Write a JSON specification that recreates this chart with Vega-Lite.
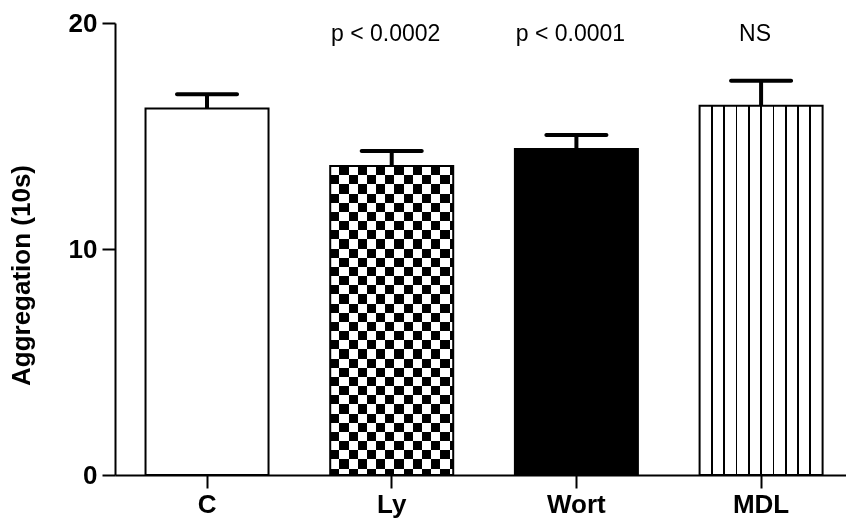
{
  "$schema": "https://vega.github.io/schema/vega-lite/v6.json",
  "autosize": {"type": "none"},
  "padding": {"left": 115, "top": 23, "right": 0, "bottom": 50},
  "width": 731,
  "height": 452,
  "background": "white",
  "config": {"view": {"stroke": null}, "font": "Liberation Sans"},
  "data": {"values": [
    {"group": "C", "mean": 16.22, "upper": 16.85, "note": ""},
    {"group": "Ly", "mean": 13.67, "upper": 14.34, "note": "p < 0.0002"},
    {"group": "Wort", "mean": 14.42, "upper": 15.04, "note": "p < 0.0001"},
    {"group": "MDL", "mean": 16.34, "upper": 17.45, "note": "NS"}
  ]},
  "encoding": {
    "x": {
      "field": "group", "type": "nominal", "sort": null,
      "scale": {"paddingInner": 0.334, "paddingOuter": 0.146, "align": 0.566},
      "axis": {
        "title": null, "labelAngle": 0, "domainWidth": 2, "domainColor": "black",
        "tickColor": "black", "tickWidth": 2, "tickSize": 13,
        "labelFont": "Liberation Sans", "labelFontWeight": "bold", "labelFontSize": 26,
        "labelColor": "black", "labelPadding": 3
      }
    }
  },
  "layer": [
    {
      "mark": {"type": "bar", "strokeWidth": 0},
      "encoding": {
        "y": {
          "field": "mean", "type": "quantitative",
          "scale": {"domain": [0, 20], "nice": false},
          "axis": {
            "values": [0, 10, 20], "grid": false, "title": "Aggregation (10s)",
            "titleFont": "Liberation Sans", "titleFontSize": 26, "titleFontWeight": "bold", "titleColor": "black",
            "titleX": -81, "titleY": 252, "titleAlign": "center", "titleAngle": -90, "titleBaseline": "bottom",
            "domainWidth": 2, "domainColor": "black", "tickColor": "black", "tickWidth": 2, "tickSize": 13,
            "labelFont": "Liberation Sans", "labelFontWeight": "bold", "labelFontSize": 26, "labelColor": "black",
            "labelPadding": 5
          }
        },
        "fill": {
          "field": "group", "type": "nominal", "legend": null,
          "scale": {"domain": ["C", "Ly", "Wort", "MDL"], "range": ["#ffffff", "#ffffff", "#000000", "#ffffff"]}
        }
      }
    },
    {
      "transform": [{"filter": "datum.group === 'Ly'"}],
      "mark": {
        "type": "bar", "strokeWidth": 0,
        "fill": {
          "gradient": "linear", "x1": 0, "y1": 0, "x2": 1, "y2": 0,
          "stops": [
            {"offset": 0, "color": "#000"}, {"offset": 0.0746, "color": "#000"},
            {"offset": 0.0746, "color": "#fff"}, {"offset": 0.1493, "color": "#fff"},
            {"offset": 0.1493, "color": "#000"}, {"offset": 0.2239, "color": "#000"},
            {"offset": 0.2239, "color": "#fff"}, {"offset": 0.2985, "color": "#fff"},
            {"offset": 0.2985, "color": "#000"}, {"offset": 0.3731, "color": "#000"},
            {"offset": 0.3731, "color": "#fff"}, {"offset": 0.4478, "color": "#fff"},
            {"offset": 0.4478, "color": "#000"}, {"offset": 0.5224, "color": "#000"},
            {"offset": 0.5224, "color": "#fff"}, {"offset": 0.5970, "color": "#fff"},
            {"offset": 0.5970, "color": "#000"}, {"offset": 0.6716, "color": "#000"},
            {"offset": 0.6716, "color": "#fff"}, {"offset": 0.7463, "color": "#fff"},
            {"offset": 0.7463, "color": "#000"}, {"offset": 0.8209, "color": "#000"},
            {"offset": 0.8209, "color": "#fff"}, {"offset": 0.8955, "color": "#fff"},
            {"offset": 0.8955, "color": "#000"}, {"offset": 0.9701, "color": "#000"},
            {"offset": 0.9701, "color": "#fff"}, {"offset": 1, "color": "#fff"}
          ]
        }
      },
      "encoding": {"y": {"field": "mean", "type": "quantitative"}}
    },
    {
      "transform": [{"filter": "datum.group === 'Ly'"}],
      "mark": {
        "type": "bar", "strokeWidth": 0, "blend": "difference",
        "fill": {
          "gradient": "linear", "x1": 0, "y1": 0, "x2": 0, "y2": 1,
          "stops": [
            {"offset": 0, "color": "#fff"}, {"offset": 0.0297, "color": "#fff"},
            {"offset": 0.0297, "color": "#000"}, {"offset": 0.0594, "color": "#000"},
            {"offset": 0.0594, "color": "#fff"}, {"offset": 0.0890, "color": "#fff"},
            {"offset": 0.0890, "color": "#000"}, {"offset": 0.1187, "color": "#000"},
            {"offset": 0.1187, "color": "#fff"}, {"offset": 0.1484, "color": "#fff"},
            {"offset": 0.1484, "color": "#000"}, {"offset": 0.1781, "color": "#000"},
            {"offset": 0.1781, "color": "#fff"}, {"offset": 0.2078, "color": "#fff"},
            {"offset": 0.2078, "color": "#000"}, {"offset": 0.2374, "color": "#000"},
            {"offset": 0.2374, "color": "#fff"}, {"offset": 0.2671, "color": "#fff"},
            {"offset": 0.2671, "color": "#000"}, {"offset": 0.2968, "color": "#000"},
            {"offset": 0.2968, "color": "#fff"}, {"offset": 0.3265, "color": "#fff"},
            {"offset": 0.3265, "color": "#000"}, {"offset": 0.3562, "color": "#000"},
            {"offset": 0.3562, "color": "#fff"}, {"offset": 0.3858, "color": "#fff"},
            {"offset": 0.3858, "color": "#000"}, {"offset": 0.4155, "color": "#000"},
            {"offset": 0.4155, "color": "#fff"}, {"offset": 0.4452, "color": "#fff"},
            {"offset": 0.4452, "color": "#000"}, {"offset": 0.4749, "color": "#000"},
            {"offset": 0.4749, "color": "#fff"}, {"offset": 0.5046, "color": "#fff"},
            {"offset": 0.5046, "color": "#000"}, {"offset": 0.5342, "color": "#000"},
            {"offset": 0.5342, "color": "#fff"}, {"offset": 0.5639, "color": "#fff"},
            {"offset": 0.5639, "color": "#000"}, {"offset": 0.5936, "color": "#000"},
            {"offset": 0.5936, "color": "#fff"}, {"offset": 0.6233, "color": "#fff"},
            {"offset": 0.6233, "color": "#000"}, {"offset": 0.6530, "color": "#000"},
            {"offset": 0.6530, "color": "#fff"}, {"offset": 0.6826, "color": "#fff"},
            {"offset": 0.6826, "color": "#000"}, {"offset": 0.7123, "color": "#000"},
            {"offset": 0.7123, "color": "#fff"}, {"offset": 0.7420, "color": "#fff"},
            {"offset": 0.7420, "color": "#000"}, {"offset": 0.7717, "color": "#000"},
            {"offset": 0.7717, "color": "#fff"}, {"offset": 0.8014, "color": "#fff"},
            {"offset": 0.8014, "color": "#000"}, {"offset": 0.8310, "color": "#000"},
            {"offset": 0.8310, "color": "#fff"}, {"offset": 0.8607, "color": "#fff"},
            {"offset": 0.8607, "color": "#000"}, {"offset": 0.8904, "color": "#000"},
            {"offset": 0.8904, "color": "#fff"}, {"offset": 0.9201, "color": "#fff"},
            {"offset": 0.9201, "color": "#000"}, {"offset": 0.9498, "color": "#000"},
            {"offset": 0.9498, "color": "#fff"}, {"offset": 0.9794, "color": "#fff"},
            {"offset": 0.9794, "color": "#000"}, {"offset": 1, "color": "#000"}
          ]
        }
      },
      "encoding": {"y": {"field": "mean", "type": "quantitative"}}
    },
    {
      "transform": [{"filter": "datum.group === 'MDL'"}],
      "mark": {
        "type": "bar", "strokeWidth": 0,
        "fill": {
          "gradient": "linear", "x1": 0, "y1": 0, "x2": 1, "y2": 0,
          "stops": [
            {"offset": 0, "color": "#fff"}, {"offset": 0.093, "color": "#fff"},
            {"offset": 0.093, "color": "#000"}, {"offset": 0.107, "color": "#000"},
            {"offset": 0.107, "color": "#fff"}, {"offset": 0.193, "color": "#fff"},
            {"offset": 0.193, "color": "#000"}, {"offset": 0.207, "color": "#000"},
            {"offset": 0.207, "color": "#fff"}, {"offset": 0.293, "color": "#fff"},
            {"offset": 0.293, "color": "#000"}, {"offset": 0.307, "color": "#000"},
            {"offset": 0.307, "color": "#fff"}, {"offset": 0.393, "color": "#fff"},
            {"offset": 0.393, "color": "#000"}, {"offset": 0.407, "color": "#000"},
            {"offset": 0.407, "color": "#fff"}, {"offset": 0.493, "color": "#fff"},
            {"offset": 0.493, "color": "#000"}, {"offset": 0.507, "color": "#000"},
            {"offset": 0.507, "color": "#fff"}, {"offset": 0.593, "color": "#fff"},
            {"offset": 0.593, "color": "#000"}, {"offset": 0.607, "color": "#000"},
            {"offset": 0.607, "color": "#fff"}, {"offset": 0.693, "color": "#fff"},
            {"offset": 0.693, "color": "#000"}, {"offset": 0.707, "color": "#000"},
            {"offset": 0.707, "color": "#fff"}, {"offset": 0.793, "color": "#fff"},
            {"offset": 0.793, "color": "#000"}, {"offset": 0.807, "color": "#000"},
            {"offset": 0.807, "color": "#fff"}, {"offset": 0.893, "color": "#fff"},
            {"offset": 0.893, "color": "#000"}, {"offset": 0.907, "color": "#000"},
            {"offset": 0.907, "color": "#fff"}, {"offset": 1, "color": "#fff"}
          ]
        }
      },
      "encoding": {"y": {"field": "mean", "type": "quantitative"}}
    },
    {
      "mark": {"type": "bar", "fill": "transparent", "stroke": "black", "strokeWidth": 2},
      "encoding": {"y": {"field": "mean", "type": "quantitative"}}
    },
    {
      "mark": {"type": "rule", "color": "black", "strokeWidth": 4},
      "encoding": {
        "y": {"field": "mean", "type": "quantitative"},
        "y2": {"field": "upper"}
      }
    },
    {
      "mark": {"type": "tick", "color": "black", "size": 64, "thickness": 4, "cornerRadius": 2, "opacity": 1},
      "encoding": {"y": {"field": "upper", "type": "quantitative"}}
    },
    {
      "mark": {"type": "text", "font": "Liberation Sans", "fontSize": 23, "color": "black", "baseline": "alphabetic", "dx": -6},
      "encoding": {
        "y": {"datum": 19.2, "type": "quantitative"},
        "text": {"field": "note"}
      }
    }
  ]
}
